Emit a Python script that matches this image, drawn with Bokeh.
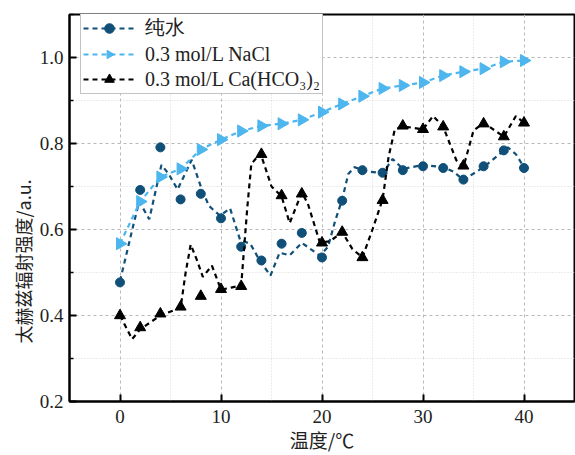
import math
from bokeh.plotting import figure
from bokeh.models import Range1d, FixedTicker, Legend, LegendItem, Title
from bokeh.embed import file_html
from bokeh.resources import INLINE

# ---- data ----
temps = [0, 2, 4, 6, 8, 10, 12, 14, 16, 18, 20, 22, 24, 26, 28, 30, 32, 34, 36, 38, 40]
water = [0.477, 0.692, 0.791, 0.670, 0.683, 0.626, 0.560, 0.528, 0.567, 0.592, 0.535,
         0.667, 0.738, 0.732, 0.738, 0.747, 0.743, 0.716, 0.747, 0.784, 0.743]
nacl = [0.567, 0.665, 0.722, 0.741, 0.786, 0.809, 0.829, 0.841, 0.846, 0.855, 0.873,
        0.892, 0.910, 0.928, 0.935, 0.942, 0.958, 0.967, 0.974, 0.990, 0.993]
ca = [0.400, 0.372, 0.404, 0.420, 0.445, 0.461, 0.468, 0.775, 0.679, 0.683, 0.569,
      0.594, 0.535, 0.668, 0.841, 0.833, 0.839, 0.748, 0.846, 0.816, 0.848]

# dashed trend curves
water_curve_x = [0, 1.3, 1.9, 2.9, 4.1, 4.8, 5.7, 7.1, 8.0, 8.8, 9.9, 10.9, 11.9, 12.9, 13.9,
                 14.9, 15.8, 16.8, 18.0, 19.8, 20.6, 21.3, 22.0, 22.6, 23.2, 24.5, 26.0, 27.0,
                 28.0, 30.0, 32.0, 33.0, 34.0, 36.0, 37.3, 38.4, 39.2, 40.0]
water_curve_y = [0.480, 0.608, 0.665, 0.624, 0.750, 0.730, 0.693, 0.762, 0.700, 0.655, 0.632,
                 0.649, 0.575, 0.567, 0.525, 0.493, 0.546, 0.540, 0.569, 0.539, 0.560, 0.620,
                 0.670, 0.729, 0.745, 0.735, 0.731, 0.764, 0.741, 0.750, 0.745, 0.735, 0.715,
                 0.745, 0.770, 0.791, 0.775, 0.745]
ca_curve_x = [0, 1.2, 2, 4, 6, 6.5, 7, 7.6, 8.2, 9.1, 10, 11, 12, 12.6, 13, 13.9, 15, 16, 16.8,
              18, 18.6, 19.8, 20.8, 22, 23, 24, 25, 26, 26.6, 27.2, 28, 30, 31, 32, 33.3, 34,
              35, 36, 38, 39.2, 40]
ca_curve_y = [0.400, 0.345, 0.368, 0.400, 0.418, 0.500, 0.565, 0.530, 0.490, 0.516, 0.460,
              0.465, 0.470, 0.650, 0.752, 0.778, 0.700, 0.677, 0.615, 0.686, 0.660, 0.569,
              0.573, 0.594, 0.555, 0.535, 0.600, 0.670, 0.770, 0.832, 0.840, 0.833, 0.864,
              0.839, 0.761, 0.745, 0.830, 0.848, 0.816, 0.864, 0.848]

labels = ["纯水", "0.3 mol/L NaCl", "0.3 mol/L Ca(HCO₃)₂"]
x_ticks = [0, 10, 20, 30, 40]
y_ticks = [0.2, 0.4, 0.6, 0.8, 1.0]

DARK = "#0f4f78"
LIGHT = "#4db6ee"
BLACK = "#000000"
SERIF = "Liberation Serif"
CJK = "Noto Sans CJK SC"

p = figure(width=575, height=455, output_backend="svg", toolbar_location=None,
           x_range=Range1d(-5, 45), y_range=Range1d(0.2, 1.1),
           min_border_left=69, min_border_right=1, min_border_top=14, min_border_bottom=47)
p.background_fill_color = "white"
p.border_fill_color = "white"
p.outline_line_color = "black"
p.outline_line_width = 2

# axes
p.xaxis.ticker = FixedTicker(ticks=x_ticks, minor_ticks=[-5, 5, 15, 25, 35, 45])
p.yaxis.ticker = FixedTicker(ticks=y_ticks, minor_ticks=[0.3, 0.5, 0.7, 0.9, 1.1])
p.yaxis.major_label_overrides = {v: f"{v:.1f}" for v in y_ticks}
for ax in (p.xaxis[0], p.yaxis[0]):
    ax.axis_line_width = 2
    ax.major_tick_line_width = 2
    ax.major_tick_in = 7
    ax.major_tick_out = 0
    ax.major_label_text_font = SERIF
    ax.major_label_text_font_size = "19px"
    ax.major_label_text_color = "#222222"
p.xaxis.minor_tick_line_color = None
p.yaxis.minor_tick_in = 4
p.yaxis.minor_tick_out = 0
p.yaxis.minor_tick_line_width = 1.5
p.xaxis.major_label_standoff = 4
p.yaxis.major_label_standoff = 6
p.xaxis.axis_label = "温度/℃"
p.xaxis.axis_label_text_font = CJK
p.xaxis.axis_label_text_font_size = "19px"
p.xaxis.axis_label_text_font_style = "normal"
p.xaxis.axis_label_text_color = "#222222"
p.xaxis.axis_label_standoff = 0

ytitle = Title(text="太赫兹辐射强度/a.u.", align="left", offset=58,
               text_font=CJK, text_font_size="18px", text_font_style="normal",
               text_color="#222222", standoff=2)
p.add_layout(ytitle, "left")

# grids
for g in (p.xgrid[0], p.ygrid[0]):
    g.grid_line_color = "#b8b8b8"
    g.grid_line_dash = "3 3"
    g.grid_line_width = 1
    g.minor_grid_line_color = "#d8d8d8"
    g.minor_grid_line_dash = "1 2"
    g.minor_grid_line_width = 1

# series
l1 = p.line(water_curve_x, water_curve_y, line_color=DARK, line_width=2.2, line_dash="5 4")
m1 = p.scatter(temps, water, marker="circle", size=9, fill_color=DARK, line_color=DARK)
l2 = p.line(temps, nacl, line_color=LIGHT, line_width=2.2, line_dash="5 4")
m2 = p.ngon(temps, nacl, radius=7, radius_units="screen", n=3, angle=-math.pi / 2,
            fill_color=LIGHT, line_color=LIGHT)
l3 = p.line(ca_curve_x, ca_curve_y, line_color=BLACK, line_width=2.2, line_dash="5 4")
m3 = p.scatter(temps, ca, marker="triangle", size=11, fill_color=BLACK, line_color=BLACK)

legend = Legend(items=[LegendItem(label=labels[0], renderers=[l1, m1]),
                       LegendItem(label=labels[1], renderers=[l2, m2]),
                       LegendItem(label=labels[2], renderers=[l3, m3])],
                location=(11, 307))
legend.label_text_font = SERIF
legend.label_text_font_size = "20px"
legend.label_text_line_height = 1.0
legend.label_text_color = "#222222"
legend.border_line_color = "#888888"
legend.border_line_width = 1.5
legend.background_fill_alpha = 1
legend.glyph_width = 52
legend.glyph_height = 24
legend.label_height = 24
legend.spacing = 1
legend.padding = 2
legend.margin = 0
legend.label_standoff = 10
p.add_layout(legend, "center")

open("out.html", "w").write(file_html(p, INLINE))
